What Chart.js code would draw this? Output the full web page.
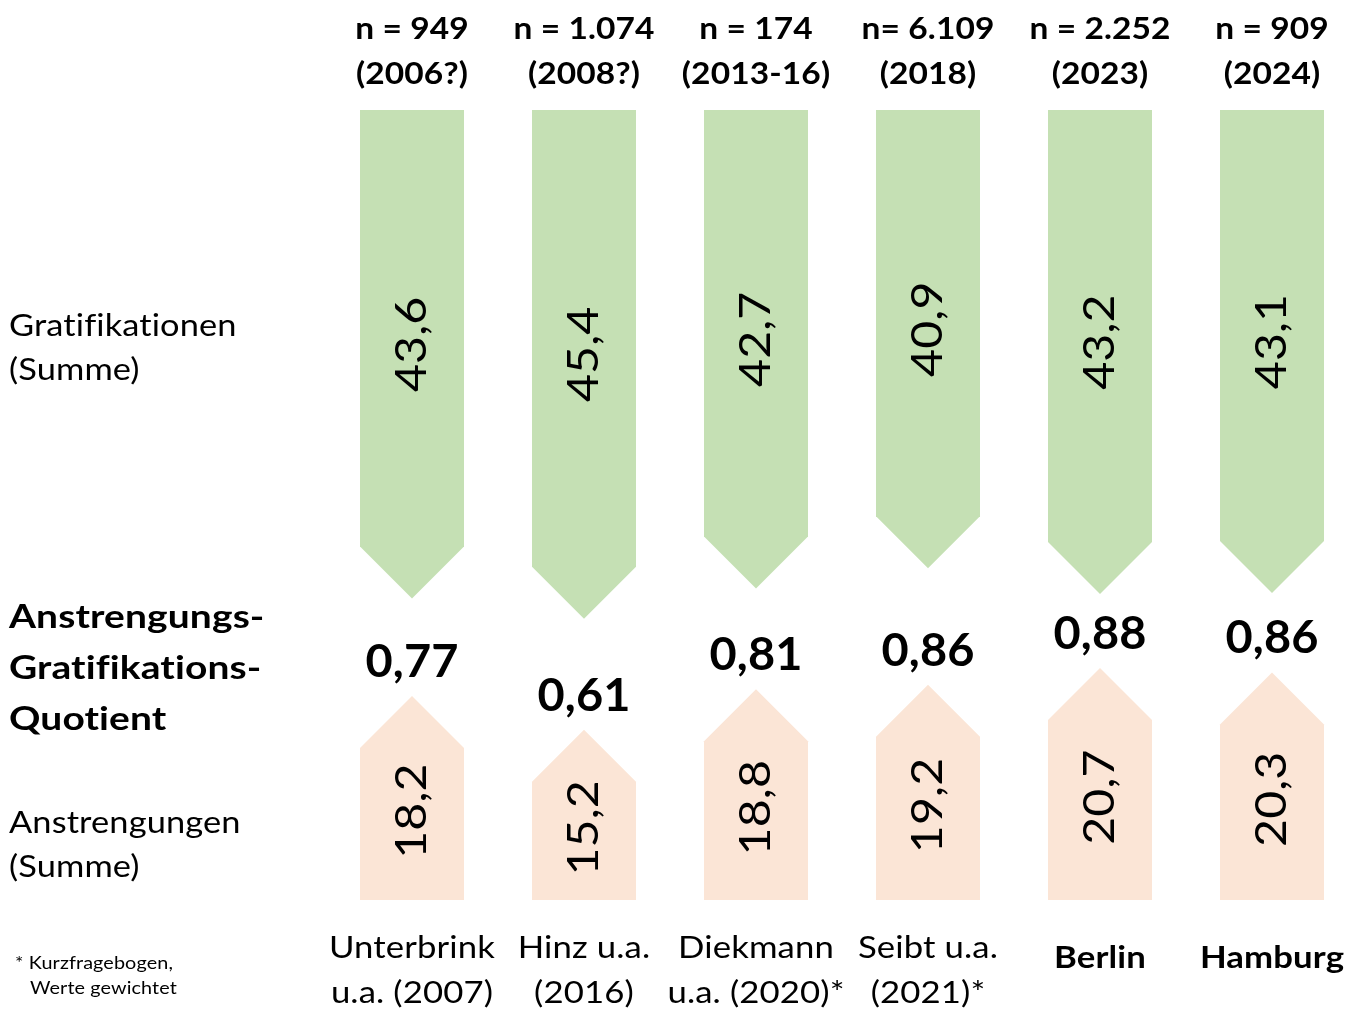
<!DOCTYPE html>
<html>
<head>
<meta charset="utf-8">
<script src="https://cdn.jsdelivr.net/npm/chart.js@4.4.1/dist/chart.umd.min.js"></script>
<style>
  html, body { margin: 0; padding: 0; background: #fff; }
  #wrap { position: relative; width: 1345px; height: 1016px; }
</style>
</head>
<body>
<div id="wrap"><canvas id="chart" width="1345" height="1016"></canvas></div>
<script>
// studies (x-axis categories), drawn below the arrows
const studies = [
    ['Unterbrink', 'u.a. (2007)'],
    ['Hinz u.a.', '(2016)'],
    ['Diekmann', 'u.a. (2020)*'],
    ['Seibt u.a.', '(2021)*'],
    ['Berlin'],
    ['Hamburg']
];
const boldStudy = [false, false, false, false, true, true];

// sample size headers
const sampleSizes = ['n = 949', 'n = 1.074', 'n = 174', 'n= 6.109', 'n = 2.252', 'n = 909'];
const surveyYears = ['(2006?)', '(2008?)', '(2013-16)', '(2018)', '(2023)', '(2024)'];

// values
const gratifikationen = [43.6, 45.4, 42.7, 40.9, 43.2, 43.1];
const anstrengungen = [18.2, 15.2, 18.8, 19.2, 20.7, 20.3];
const quotient = [0.77, 0.61, 0.81, 0.86, 0.88, 0.86];

const GREEN = '#C5E0B4';
const PEACH = '#FBE5D6';
const FONT = 'Lato, "Open Sans", sans-serif';

const fmt = (v, d) => v.toFixed(d).replace('.', ',');

// text with a horizontal stretch (the source font is wider than Lato)
function drawText(ctx, s, x, y, font, sx, align, rot) {
    ctx.save();
    ctx.font = font;
    ctx.letterSpacing = '0.1px';
    ctx.fillStyle = '#000';
    ctx.textAlign = align || 'center';
    ctx.textBaseline = 'middle';
    ctx.translate(x, y);
    if (rot) ctx.rotate(rot);
    ctx.scale(sx, 1);
    ctx.fillText(s, 0, 0);
    ctx.restore();
}

// draws bars as arrows (tip at the value end) plus all the text
const arrowPlugin = {
    id: 'arrows',
    afterDatasetsDraw(chart) {
        const ctx = chart.ctx;
        ctx.save();

        const tips = [];
        chart.data.datasets.forEach((ds, di) => {
            const meta = chart.getDatasetMeta(di);
            tips[di] = [];
            meta.data.forEach((bar, i) => {
                const { x, y, base, width } = bar.getProps(['x', 'y', 'base', 'width'], true);
                const half = width / 2;
                const dir = y > base ? 1 : -1;
                const head = Math.min(half, Math.abs(y - base));
                const shoulder = y - dir * head;

                ctx.fillStyle = ds.arrowColor;
                ctx.beginPath();
                ctx.moveTo(x - half, base);
                ctx.lineTo(x + half, base);
                ctx.lineTo(x + half, shoulder);
                ctx.lineTo(x, y);
                ctx.lineTo(x - half, shoulder);
                ctx.closePath();
                ctx.fill();

                // rotated value label
                const cy = (y + base) / 2 + (dir > 0 ? -10 : 13);
                drawText(ctx, fmt(ds.data[i][1] - ds.data[i][0], 1), x, cy,
                    '42px ' + FONT, 1.15, 'center', -Math.PI / 2);

                tips[di][i] = { x, y };
            });
        });

        // quotient above the effort arrows
        tips[1].forEach((t, i) => {
            drawText(ctx, fmt(quotient[i], 2), t.x, t.y - 34, 'bold 46px ' + FONT, 1.02);
        });

        // headers
        tips[0].forEach((t, i) => {
            drawText(ctx, sampleSizes[i], t.x, 29, 'bold 31px ' + FONT, 1.08);
            drawText(ctx, surveyYears[i], t.x, 74, 'bold 31px ' + FONT, 1.08);
        });

        // study names
        tips[1].forEach((t, i) => {
            const font = (boldStudy[i] ? 'bold ' : '') + '31px ' + FONT;
            const lines = studies[i];
            const y0 = lines.length > 1 ? 948 : 958;
            lines.forEach((l, k) => drawText(ctx, l, t.x, y0 + k * 45, font, 1.12));
        });

        // left-hand row labels
        const reg = '31px ' + FONT;
        const bold = 'bold 33px ' + FONT;
        drawText(ctx, 'Gratifikationen', 9, 326, reg, 1.11, 'left');
        drawText(ctx, '(Summe)', 9, 370, reg, 1.11, 'left');
        drawText(ctx, 'Anstrengungen', 9, 823, reg, 1.11, 'left');
        drawText(ctx, '(Summe)', 9, 867, reg, 1.11, 'left');
        drawText(ctx, 'Anstrengungs-', 9, 617, bold, 1.18, 'left');
        drawText(ctx, 'Gratifikations-', 9, 668, bold, 1.18, 'left');
        drawText(ctx, 'Quotient', 9, 719, bold, 1.18, 'left');

        drawText(ctx, '* Kurzfragebogen,', 15, 963, '18px ' + FONT, 1.1, 'left');
        drawText(ctx, 'Werte gewichtet', 30, 988, '18px ' + FONT, 1.1, 'left');

        ctx.restore();
    }
};

new Chart(document.getElementById('chart'), {
    type: 'bar',
    data: {
        labels: studies,
        datasets: [{
            label: 'Gratifikationen (Summe)',
            data: gratifikationen.map(v => [0, v]),
            yAxisID: 'yTop',
            backgroundColor: 'rgba(0,0,0,0)',
            arrowColor: GREEN,
            grouped: false,
            barThickness: 104
        }, {
            label: 'Anstrengungen (Summe)',
            data: anstrengungen.map(v => [0, v]),
            yAxisID: 'yBottom',
            backgroundColor: 'rgba(0,0,0,0)',
            arrowColor: PEACH,
            grouped: false,
            barThickness: 104
        }]
    },
    options: {
        responsive: false,
        animation: false,
        layout: { padding: { left: 412, right: 73, top: 110, bottom: 116 } },
        plugins: { legend: { display: false }, tooltip: { enabled: false } },
        scales: {
            x: { type: 'category', offset: false, display: false },
            yTop: { type: 'linear', min: 0, max: 70.5, reverse: true, display: false },
            yBottom: { type: 'linear', min: 0, max: 70.5, display: false }
        }
    },
    plugins: [arrowPlugin]
});
</script>
</body>
</html>
